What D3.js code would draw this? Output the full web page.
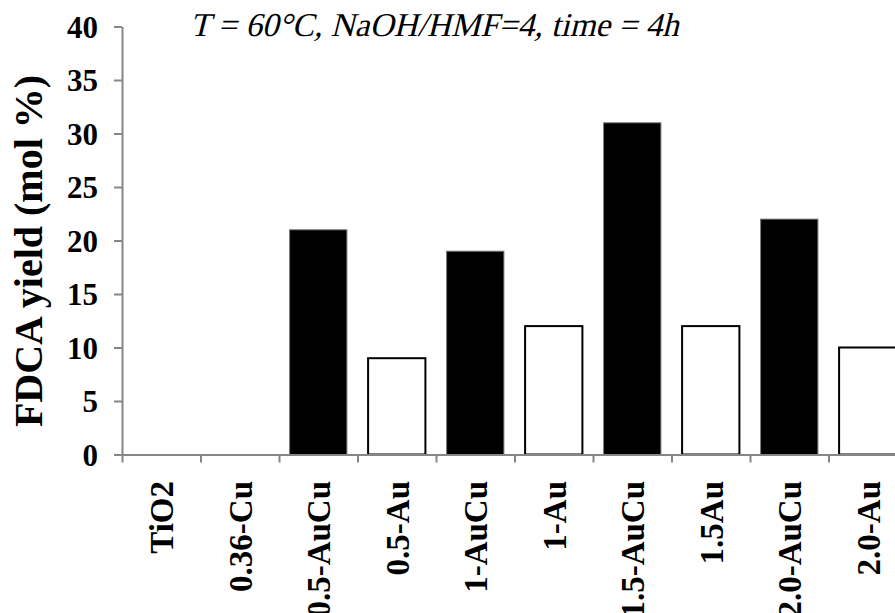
<!DOCTYPE html>
<html>
<head>
<meta charset="utf-8">
<script src="https://cdn.jsdelivr.net/npm/d3@7"></script>
<style>
  body { margin: 0; background: #fff; }
  svg { display: block; overflow: hidden; }
  .axis path, .axis line { stroke: #868686; stroke-width: 2px; }
  .tick text { font-family: "Liberation Serif", "Times New Roman", serif; font-weight: bold; fill: #000; }
</style>
</head>
<body>
<script>
// data
var categories = ['TiO2', '0.36-Cu', '0.5-AuCu', '0.5-Au', '1-AuCu', '1-Au', '1.5-AuCu', '1.5Au', '2.0-AuCu', '2.0-Au']
var yields = [0, 0, 21, 9, 19, 12, 31, 12, 22, 10]
var fills = ['#000', '#000', '#000', '#fff', '#000', '#fff', '#000', '#fff', '#000', '#fff']
var yTicks = [0, 5, 10, 15, 20, 25, 30, 35, 40]

var W = 895, H = 613
var margin = {left: 122, top: 26.5}
var plotH = 428
var band = 78.5
var serif = '"Liberation Serif", "Times New Roman", serif'

var svg = d3.select('body').append('svg')
    .attr('width', W)
    .attr('height', H)

var x = d3.scaleBand()
    .domain(categories)
    .range([margin.left, margin.left + band*categories.length])
    .paddingInner(0.27)
    .paddingOuter(0.135)

var xEdge = d3.scaleLinear()
    .domain([0, categories.length])
    .range([margin.left, margin.left + band*categories.length])

var y = d3.scaleLinear()
    .domain([0, 40])
    .range([margin.top + plotH, margin.top])

// bars
svg.append('g')
    .selectAll('rect')
    .data(categories)
    .enter()
    .append('rect')
    .attr('x', function(d){ return x(d) })
    .attr('y', function(d, i){ return y(yields[i]) })
    .attr('width', x.bandwidth())
    .attr('height', function(d, i){ return y(0) - y(yields[i]) })
    .attr('fill', function(d, i){ return fills[i] })
    .attr('stroke', function(d, i){ return fills[i] === '#fff' ? '#000' : '#777' })
    .attr('stroke-width', function(d, i){ return fills[i] === '#fff' ? 2 : 1 })
    .style('display', function(d, i){ return yields[i] > 0 ? null : 'none' })

// y axis
var yAxisG = svg.append('g')
    .attr('class', 'axis')
    .attr('transform', 'translate(' + margin.left + ',0)')
    .call(d3.axisLeft(y).tickValues(yTicks).tickSize(8).tickSizeOuter(0).tickPadding(16))
yAxisG.selectAll('text').style('font-size', '31px').attr('dy', '0.34em')

// x axis: plain line with ticks at band edges
svg.append('g')
    .attr('class', 'axis')
    .attr('transform', 'translate(0,' + y(0) + ')')
    .call(d3.axisBottom(xEdge).tickValues(d3.range(0, categories.length + 1)).tickSize(8).tickSizeOuter(0).tickFormat(''))

// category labels, rotated (the long ones run off the bottom, as in the original)
svg.append('g')
    .selectAll('text')
    .data(categories)
    .enter()
    .append('text')
    .attr('transform', function(d){ return 'translate(' + (x(d) + x.bandwidth()/2 + 12) + ',' + 481 + ') rotate(-90)' })
    .attr('text-anchor', 'end')
    .style('font-family', serif)
    .style('font-weight', 'bold')
    .style('font-size', '33px')
    .text(function(d){ return d })

// y title
svg.append('text')
    .attr('transform', 'translate(42,251) rotate(-90)')
    .attr('text-anchor', 'middle')
    .style('font-family', serif)
    .style('font-weight', 'bold')
    .style('font-size', '40px')
    .text('FDCA yield (mol %)')

// condition note (slanted by hand, the serif italic face is not always there)
svg.append('text')
    .attr('transform', 'translate(190,36) skewX(-14)')
    .style('font-family', serif)
    .style('font-size', '33.3px')
    .text('T = 60\u00b0C, NaOH/HMF=4, time = 4h')
</script>
</body>
</html>
